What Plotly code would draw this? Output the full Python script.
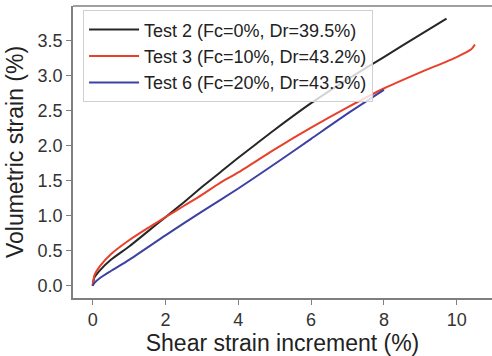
import plotly.graph_objects as go

# Test 2 (black)
t2_x = [0, 0.05, 0.2, 0.5, 1.0, 1.5, 2.0, 2.5, 3.0, 3.5, 4.0, 4.5, 5.0, 6.0, 7.0, 8.0, 9.0, 9.72]
t2_y = [0, 0.12, 0.22, 0.37, 0.56, 0.77, 0.98, 1.19, 1.41, 1.62, 1.83, 2.03, 2.23, 2.61, 2.95, 3.27, 3.59, 3.82]
# Test 3 (red)
t3_x = [0, 0.05, 0.2, 0.5, 1.0, 1.5, 2.0, 2.5, 3.0, 3.5, 4.0, 5.0, 6.0, 7.0, 8.0, 9.0, 10.0, 10.4, 10.5]
t3_y = [0, 0.15, 0.28, 0.45, 0.65, 0.82, 0.98, 1.14, 1.30, 1.47, 1.62, 1.95, 2.26, 2.55, 2.82, 3.05, 3.27, 3.38, 3.45]
# Test 6 (blue)
t6_x = [0, 0.05, 0.2, 0.5, 1.0, 2.0, 3.0, 4.0, 5.0, 6.0, 7.0, 8.0]
t6_y = [0, 0.04, 0.11, 0.21, 0.37, 0.72, 1.06, 1.39, 1.74, 2.10, 2.46, 2.80]

names = ["Test 2 (Fc=0%, Dr=39.5%)", "Test 3 (Fc=10%, Dr=43.2%)", "Test 6 (Fc=20%, Dr=43.5%)"]
colors = ["#262626", "#e8402a", "#3d41a3"]

fig = go.Figure()
for x, y, n, c in zip([t2_x, t3_x, t6_x], [t2_y, t3_y, t6_y], names, colors):
    fig.add_trace(go.Scatter(x=x, y=y, mode="lines", name=n,
                             line=dict(color=c, width=2, shape="spline", smoothing=0.6)))

font = "Liberation Sans, Arial, sans-serif"
fig.update_layout(
    width=492, height=356,
    margin=dict(l=73, r=0, t=6, b=58),
    paper_bgcolor="white", plot_bgcolor="white",
    font=dict(family=font, color="#333333"),
    showlegend=True,
    legend=dict(x=0.024, y=0.985, xanchor="left", yanchor="top",
                bgcolor="rgba(255,255,255,0.8)", bordercolor="#d0d0d0", borderwidth=1,
                font=dict(size=18, color="#222222"), itemwidth=50),
    xaxis=dict(range=[-0.54, 10.97], tickvals=[0, 2, 4, 6, 8, 10],
               showgrid=False, zeroline=False, showline=True, linecolor="#7f7f7f", linewidth=1.5,
               mirror=False, ticks="outside", ticklen=5, tickcolor="#7f7f7f", tickwidth=1.2,
               tickfont=dict(size=18, color="#333333"),
               title=dict(text="Shear strain increment (%)", font=dict(size=23, color="#222222"), standoff=6)),
    yaxis=dict(range=[-0.176, 4.0], tickvals=[0, 0.5, 1.0, 1.5, 2.0, 2.5, 3.0, 3.5],
               ticktext=["0.0", "0.5", "1.0", "1.5", "2.0", "2.5", "3.0", "3.5"],
               showgrid=False, zeroline=False, showline=True, linecolor="#7f7f7f", linewidth=1.5,
               mirror=False, ticks="outside", ticklen=5, tickcolor="#7f7f7f", tickwidth=1.2,
               tickfont=dict(size=18, color="#333333"),
               title=dict(text="Volumetric strain (%)", font=dict(size=23, color="#222222"), standoff=8)),
)
# top spine
fig.add_shape(type="line", xref="paper", yref="paper", x0=0, x1=1, y0=1, y1=1,
              line=dict(color="#7f7f7f", width=1.5))

fig.write_html("out.html")
